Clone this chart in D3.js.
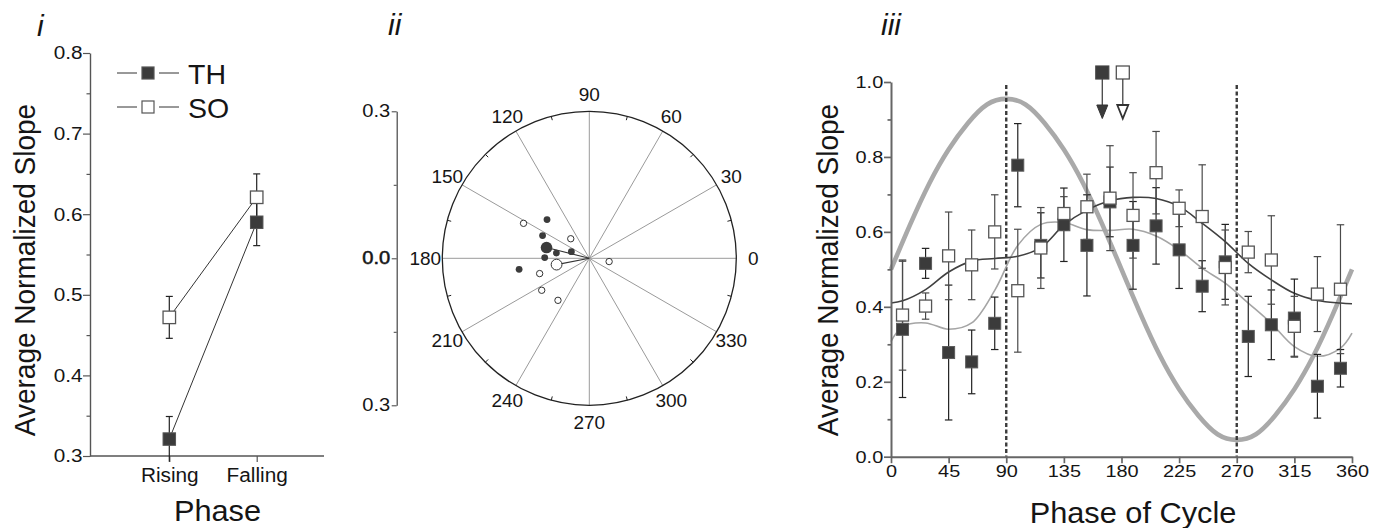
<!DOCTYPE html>
<html>
<head>
<meta charset="utf-8">
<script src="https://cdn.jsdelivr.net/npm/d3@7"></script>
<style>
  body { margin: 0; background: #fff; }
  svg { display: block; font-family: "Liberation Sans", Arial, sans-serif; }
  text { fill: #151515; }
</style>
</head>
<body>
<svg id="fig" width="1373" height="528"></svg>
<script>
// ---- panel i data ----
const phases = ["Rising", "Falling"];
const thPhaseMean = [0.321, 0.590];
const thPhaseErr = [0.028, 0.029];
const soPhaseMean = [0.472, 0.621];
const soPhaseErr = [0.026, 0.029];
const yTicksI = [0.3, 0.4, 0.5, 0.6, 0.7, 0.8];
const yMinorI = [0.35, 0.45, 0.55, 0.65, 0.75];

// ---- panel ii data (angle in degrees, vector length) ----
const thAngles = [137.5, 154.1, 170.9, 159.6, 179.1, 188.9];
const thRadii = [0.117, 0.106, 0.068, 0.039, 0.091, 0.145];
const soAngles = [152.0, 133.5, 197.1, 213.9, 233.3, 350.6];
const soRadii = [0.152, 0.055, 0.106, 0.117, 0.107, 0.041];
const thMeanAngle = 165.9, thMeanRadius = 0.090;
const soMeanAngle = 190.9, soMeanRadius = 0.068;
const polarLabels = [0, 30, 60, 90, 120, 150, 180, 210, 240, 270, 300, 330];
const polarMinor = [15, 45, 75, 105, 135, 165, 195, 225, 255, 285, 315, 345];
const scaleTicks = [-0.3, 0, 0.3];
const scaleMinor = [-0.15, 0.15];

// ---- panel iii data ----
const binPhase = [9, 27, 45, 63, 81, 99, 117, 135, 153, 171, 189, 207, 225, 243, 261, 279, 297, 315, 333, 351];
const thMean = [0.340, 0.516, 0.278, 0.253, 0.356, 0.778, 0.564, 0.619, 0.564, 0.680, 0.564, 0.616, 0.552, 0.455, 0.520, 0.321, 0.352, 0.370, 0.188, 0.236];
const thErr = [0.182, 0.040, 0.180, 0.085, 0.070, 0.111, 0.087, 0.098, 0.135, 0.093, 0.117, 0.102, 0.103, 0.068, 0.100, 0.107, 0.093, 0.104, 0.085, 0.050];
const soMean = [0.378, 0.402, 0.536, 0.512, 0.600, 0.443, 0.557, 0.649, 0.667, 0.690, 0.644, 0.758, 0.663, 0.641, 0.505, 0.546, 0.525, 0.348, 0.434, 0.447];
const soErr = [0.147, 0.035, 0.117, 0.093, 0.099, 0.164, 0.108, 0.045, 0.087, 0.140, 0.114, 0.110, 0.049, 0.138, 0.100, 0.055, 0.118, 0.080, 0.100, 0.172];
const curvePhase = [0, 9, 27, 45, 63, 81, 99, 117, 135, 153, 171, 189, 207, 225, 243, 261, 279, 297, 315, 333, 351, 360];
const darkCurve = [0.410, 0.416, 0.446, 0.493, 0.522, 0.529, 0.535, 0.558, 0.618, 0.658, 0.683, 0.692, 0.689, 0.668, 0.623, 0.574, 0.516, 0.472, 0.436, 0.417, 0.410, 0.408];
const lightCurve = [0.307, 0.347, 0.357, 0.340, 0.357, 0.444, 0.564, 0.620, 0.625, 0.606, 0.604, 0.607, 0.589, 0.552, 0.503, 0.463, 0.410, 0.356, 0.294, 0.268, 0.290, 0.330];
const wavePhase = [0, 15, 30, 45, 60, 75, 90, 105, 120, 135, 150, 165, 180, 195, 210, 225, 240, 255, 270, 285, 300, 315, 330, 345, 360];
const waveValue = [0.50, 0.62, 0.73, 0.82, 0.89, 0.94, 0.955, 0.94, 0.89, 0.82, 0.73, 0.62, 0.50, 0.38, 0.27, 0.18, 0.11, 0.06, 0.045, 0.06, 0.11, 0.18, 0.27, 0.38, 0.50];
const markLines = [90, 270];
const thPeakPhase = 165, soPeakPhase = 181;
const xTicksIII = [0, 45, 90, 135, 180, 225, 270, 315, 360];
const yTicksIII = [0, 0.2, 0.4, 0.6, 0.8, 1.0];
const yMinorIII = [0.1, 0.3, 0.5, 0.7, 0.9];

const svg = d3.select("#fig");
const DARK = "#3b3b3b";

// stretch tick text horizontally, keeping its anchor point
function stretchTicks(g, k) {
  g.selectAll(".tick text").each(function() {
    const t = d3.select(this);
    const x = +t.attr("x") || 0, y = +t.attr("y") || 0;
    t.attr("x", 0).attr("y", 0).attr("transform", `translate(${x},${y}) scale(${k},1)`);
  });
}
function label(x, y, txt, size, k, opts = {}) {
  return svg.append("text")
    .attr("transform", `translate(${x},${y}) scale(${k},1)` + (opts.rotate ? " rotate(-90)" : ""))
    .attr("text-anchor", opts.anchor || "middle")
    .attr("font-size", size)
    .attr("font-style", opts.italic ? "italic" : null)
    .text(txt);
}
function styleAxis(g, color, width) {
  g.selectAll("path.domain").attr("stroke", color).attr("stroke-width", width);
  g.selectAll(".tick line").attr("stroke", color).attr("stroke-width", width * 0.85);
}
function errBar(g, x, yTop, yBot, cap, color, yMaxCap) {
  g.append("line").attr("x1", x).attr("x2", x).attr("y1", yTop).attr("y2", yBot)
    .attr("stroke", color).attr("stroke-width", 1.2);
  [yTop, yBot].forEach(yy => {
    if (yMaxCap !== undefined && yy > yMaxCap) return;
    g.append("line").attr("x1", x - cap / 2).attr("x2", x + cap / 2).attr("y1", yy).attr("y2", yy)
      .attr("stroke", color).attr("stroke-width", 1.2);
  });
}

// ================= panel i =================
const yI = d3.scaleLinear().domain([0.3, 0.8]).range([456, 53]);
const xI = d3.scalePoint().domain(phases).range([169.3, 256.7]);
const gI = svg.append("g");

const yAxI = gI.append("g").attr("transform", "translate(90,0)")
  .call(d3.axisLeft(yI).tickValues(yTicksI).tickFormat(d3.format(".1f")).tickSize(7).tickSizeOuter(0).tickPadding(0.5));
yAxI.selectAll(".tick text").attr("font-size", 18.5).attr("font-family", null);
stretchTicks(yAxI, 1.12);
styleAxis(yAxI, "#555", 1.4);
const yMinI = gI.append("g").attr("transform", "translate(90,0)")
  .call(d3.axisLeft(yI).tickValues(yMinorI).tickFormat("").tickSize(3.5));
yMinI.select("path.domain").remove();
styleAxis(yMinI, "#555", 1.4);

gI.append("line").attr("x1", 90).attr("x2", 324).attr("y1", yI(0.3)).attr("y2", yI(0.3))
  .attr("stroke", "#555").attr("stroke-width", 1.4);
const xAxI = gI.append("g").attr("transform", `translate(0,${yI(0.3)})`)
  .call(d3.axisBottom(xI).tickSize(6).tickPadding(6));
xAxI.select("path.domain").remove();
xAxI.selectAll(".tick text").attr("font-size", 20).attr("font-family", null);
stretchTicks(xAxI, 1.04);
styleAxis(xAxI, "#555", 1.4);

// connecting lines
[thPhaseMean, soPhaseMean].forEach(m => {
  gI.append("path")
    .attr("d", d3.line().x((d, i) => xI(phases[i])).y(d => yI(d))(m))
    .attr("fill", "none").attr("stroke", "#333").attr("stroke-width", 1);
});
phases.forEach((p, i) => {
  errBar(gI, xI(p), yI(thPhaseMean[i] + thPhaseErr[i]), yI(thPhaseMean[i] - thPhaseErr[i]), 7, "#222", yI(0.3));
  errBar(gI, xI(p), yI(soPhaseMean[i] + soPhaseErr[i]), yI(soPhaseMean[i] - soPhaseErr[i]), 7, "#222", yI(0.3));
});
const sqI = 12.5;
phases.forEach((p, i) => {
  gI.append("rect").attr("x", xI(p) - sqI / 2).attr("y", yI(thPhaseMean[i]) - sqI / 2)
    .attr("width", sqI).attr("height", sqI).attr("fill", DARK).attr("stroke", "#555").attr("stroke-width", 1);
});
phases.forEach((p, i) => {
  gI.append("rect").attr("x", xI(p) - sqI / 2).attr("y", yI(soPhaseMean[i]) - sqI / 2)
    .attr("width", sqI).attr("height", sqI).attr("fill", "#fff").attr("stroke", "#555").attr("stroke-width", 1.3);
});

// legend
[["TH", 73, DARK], ["SO", 107, "#fff"]].forEach(([name, ly, fill]) => {
  gI.append("line").attr("x1", 117).attr("x2", 137).attr("y1", ly).attr("y2", ly).attr("stroke", "#333").attr("stroke-width", 1);
  gI.append("line").attr("x1", 159).attr("x2", 179).attr("y1", ly).attr("y2", ly).attr("stroke", "#333").attr("stroke-width", 1);
  gI.append("rect").attr("x", 148 - 6).attr("y", ly - 6).attr("width", 12).attr("height", 12)
    .attr("fill", fill).attr("stroke", "#555").attr("stroke-width", 1.2);
  label(188, ly + 10.5, name, 28.5, 1.0, { anchor: "start" });
});

label(35, 270, "Average Normalized Slope", 28, 1.08, { rotate: true });
label(217.5, 521, "Phase", 29, 1.06);
label(37, 36, "i", 30, 1.0, { anchor: "start", italic: true });

// ================= panel ii =================
const cx = 589.3, cy = 258.3;
const rP = d3.scaleLinear().domain([0, 0.3]).range([0, 147]);
const R = rP(0.3);
const gP = svg.append("g");
const rad = a => a * Math.PI / 180;
const px = (a, r) => cx + rP(r) * Math.cos(rad(a));
const py = (a, r) => cy - rP(r) * Math.sin(rad(a));

polarLabels.forEach(a => {
  gP.append("line").attr("x1", cx).attr("y1", cy).attr("x2", px(a, 0.3)).attr("y2", py(a, 0.3))
    .attr("stroke", "#9a9a9a").attr("stroke-width", 1);
});
gP.append("circle").attr("cx", cx).attr("cy", cy).attr("r", R)
  .attr("fill", "none").attr("stroke", "#222").attr("stroke-width", 1.3);
polarMinor.forEach(a => {
  const r0 = rP.invert(R - 4);
  gP.append("line").attr("x1", px(a, r0)).attr("y1", py(a, r0)).attr("x2", px(a, 0.3)).attr("y2", py(a, 0.3))
    .attr("stroke", "#222").attr("stroke-width", 1);
});
const labR = rP.invert(164);
polarLabels.forEach(a => {
  gP.append("text").attr("x", px(a, labR)).attr("y", py(a, labR)).attr("dy", "0.36em")
    .attr("text-anchor", "middle").attr("font-size", 19).text(a);
});
// mean vectors
[[thMeanAngle, thMeanRadius], [soMeanAngle, soMeanRadius]].forEach(([a, r]) => {
  gP.append("line").attr("x1", cx).attr("y1", cy).attr("x2", px(a, r)).attr("y2", py(a, r))
    .attr("stroke", "#333").attr("stroke-width", 1.1);
});
thAngles.forEach((a, i) => {
  gP.append("circle").attr("cx", px(a, thRadii[i])).attr("cy", py(a, thRadii[i])).attr("r", 3.4).attr("fill", DARK);
});
soAngles.forEach((a, i) => {
  gP.append("circle").attr("cx", px(a, soRadii[i])).attr("cy", py(a, soRadii[i])).attr("r", 3.2)
    .attr("fill", "#fff").attr("stroke", "#333").attr("stroke-width", 1);
});
gP.append("circle").attr("cx", px(thMeanAngle, thMeanRadius)).attr("cy", py(thMeanAngle, thMeanRadius)).attr("r", 5.8).attr("fill", DARK);
gP.append("circle").attr("cx", px(soMeanAngle, soMeanRadius)).attr("cy", py(soMeanAngle, soMeanRadius)).attr("r", 5.4)
  .attr("fill", "#fff").attr("stroke", "#333").attr("stroke-width", 1);

// radial scale bar
const yS = d3.scaleLinear().domain([-0.3, 0.3]).range([cy + R, cy - R]);
const sAx = gP.append("g").attr("transform", "translate(396.7,0)")
  .call(d3.axisLeft(yS).tickValues(scaleTicks).tickFormat(d => Math.abs(d).toFixed(1)).tickSize(5).tickSizeOuter(0).tickPadding(1.5));
sAx.selectAll(".tick text").attr("font-size", 17.5).attr("font-family", null)
  .attr("stroke", d => d === 0 ? "#151515" : null).attr("stroke-width", d => d === 0 ? 0.5 : null);
stretchTicks(sAx, 1.15);
styleAxis(sAx, "#444", 1.2);
const sMin = gP.append("g").attr("transform", "translate(396.7,0)")
  .call(d3.axisLeft(yS).tickValues(scaleMinor).tickFormat("").tickSize(3));
sMin.select("path.domain").remove();
styleAxis(sMin, "#444", 1.2);
label(388, 35, "ii", 30, 1.0, { anchor: "start", italic: true });

// ================= panel iii =================
const x3 = d3.scaleLinear().domain([0, 360]).range([891, 1352]);
const y3 = d3.scaleLinear().domain([0, 1]).range([456.7, 82]);
const g3 = svg.append("g");

g3.append("path")
  .attr("d", d3.line().curve(d3.curveNatural).x((d, i) => x3(wavePhase[i])).y(d => y3(d))(waveValue))
  .attr("fill", "none").attr("stroke", "#a9a9a9").attr("stroke-width", 4.6);

markLines.forEach(p => {
  g3.append("line").attr("x1", x3(p)).attr("x2", x3(p)).attr("y1", 85).attr("y2", y3(0))
    .attr("stroke", "#3a3a3a").attr("stroke-width", 2.4).attr("stroke-dasharray", "4,2.5");
});

[[lightCurve, "#a5a5a5"], [darkCurve, "#404040"]].forEach(([vals, col]) => {
  g3.append("path")
    .attr("d", d3.line().curve(d3.curveCatmullRom).x((d, i) => x3(curvePhase[i])).y(d => y3(d))(vals))
    .attr("fill", "none").attr("stroke", col).attr("stroke-width", 1.6);
});

binPhase.forEach((p, i) => {
  errBar(g3, x3(p), y3(thMean[i] + thErr[i]), y3(thMean[i] - thErr[i]), 7.5, "#222");
});
binPhase.forEach((p, i) => {
  errBar(g3, x3(p), y3(soMean[i] + soErr[i]), y3(soMean[i] - soErr[i]), 7.5, "#4a4a4a");
});
const sq3 = 12;
binPhase.forEach((p, i) => {
  g3.append("rect").attr("x", x3(p) - sq3 / 2).attr("y", y3(thMean[i]) - sq3 / 2)
    .attr("width", sq3).attr("height", sq3).attr("fill", DARK).attr("stroke", "#5a5a5a").attr("stroke-width", 1);
});
binPhase.forEach((p, i) => {
  g3.append("rect").attr("x", x3(p) - sq3 / 2).attr("y", y3(soMean[i]) - sq3 / 2)
    .attr("width", sq3).attr("height", sq3).attr("fill", "#fff").attr("stroke", "#555").attr("stroke-width", 1.3);
});

// peak-phase arrows
[[thPeakPhase, DARK], [soPeakPhase, "#fff"]].forEach(([p, fill]) => {
  const ax = x3(p);
  g3.append("line").attr("x1", ax).attr("x2", ax).attr("y1", 79).attr("y2", 106)
    .attr("stroke", "#444").attr("stroke-width", 1.3);
  g3.append("rect").attr("x", ax - 6.5).attr("y", 66).attr("width", 13).attr("height", 13)
    .attr("fill", fill).attr("stroke", "#444").attr("stroke-width", 1.2);
  g3.append("path").attr("d", `M${ax - 5.5},${105} L${ax + 5.5},${105} L${ax},${118.5} Z`)
    .attr("fill", fill).attr("stroke", "#333").attr("stroke-width", fill === "#fff" ? 1.8 : 1);
});

// axes
const yAx3 = g3.append("g").attr("transform", `translate(${x3(0)},0)`)
  .call(d3.axisLeft(y3).tickValues(yTicksIII).tickFormat(d3.format(".1f")).tickSize(7).tickSizeOuter(0).tickPadding(0.8));
yAx3.selectAll(".tick text").attr("font-size", 17).attr("font-family", null);
stretchTicks(yAx3, 1.17);
styleAxis(yAx3, "#666", 2);
const yMin3 = g3.append("g").attr("transform", `translate(${x3(0)},0)`)
  .call(d3.axisLeft(y3).tickValues(yMinorIII).tickFormat("").tickSize(3.5));
yMin3.select("path.domain").remove();
styleAxis(yMin3, "#666", 2);
const xAx3 = g3.append("g").attr("transform", `translate(0,${y3(0)})`)
  .call(d3.axisBottom(x3).tickValues(xTicksIII).tickFormat(d3.format("d")).tickSize(6.5).tickSizeOuter(0).tickPadding(1.5));
xAx3.selectAll(".tick text").attr("font-size", 17).attr("font-family", null);
stretchTicks(xAx3, 1.17);
styleAxis(xAx3, "#666", 2);

label(838, 270, "Average Normalized Slope", 28, 1.08, { rotate: true });
label(1133, 523, "Phase of Cycle", 29, 1.06);
label(881, 35, "iii", 30, 1.0, { anchor: "start", italic: true });
</script>
</body>
</html>
